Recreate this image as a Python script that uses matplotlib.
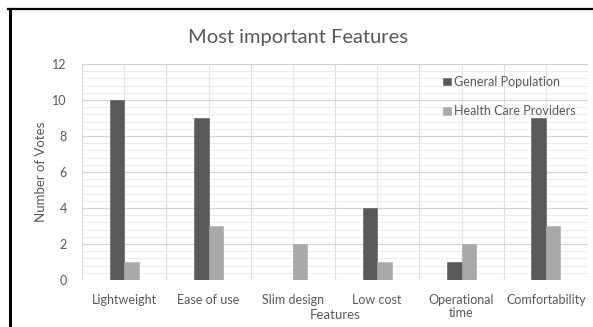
import matplotlib
matplotlib.use("Agg")
import matplotlib.pyplot as plt
import numpy as np
from matplotlib.lines import Line2D
from matplotlib.ticker import MultipleLocator

categories = ["Lightweight", "Ease of use", "Slim design", "Low cost", "Operational\ntime", "Comfortability"]
general_population = [10, 9, 0, 4, 1, 9]
health_care_providers = [1, 3, 2, 1, 2, 3]
y_ticks = [0, 2, 4, 6, 8, 10, 12]

plt.rcParams['font.family'] = ['Lato', 'DejaVu Sans']
text_color = "#595959"

W, H, DPI = 593, 327, 100
fig = plt.figure(figsize=(W / DPI, H / DPI), dpi=DPI)
ax = fig.add_axes([82 / W, 1 - 280 / H, (588 - 82) / W, (280 - 64) / H])

x = np.arange(len(categories))
bw = 0.172
ax.bar(x - bw / 2, general_population, bw, color="#595959", edgecolor="#595959",
       linewidth=0.4, label="General Population", zorder=3)
ax.bar(x + bw / 2, health_care_providers, bw, color="#a9a9a9", edgecolor="#a9a9a9",
       linewidth=0.4, label="Health Care Providers", zorder=3)

ax.set_xlim(-0.5, len(categories) - 0.5)
ax.set_ylim(0, 12)
ax.set_yticks(y_ticks)
ax.set_yticklabels([str(v) for v in y_ticks])
ax.yaxis.set_minor_locator(MultipleLocator(0.4))
ax.set_xticks(x)
ax.set_xticklabels(categories, linespacing=1.1)

ax.grid(axis="y", which="major", color="#d4d4d4", linewidth=0.8, zorder=0)
ax.grid(axis="y", which="minor", color="#ececec", linewidth=0.7, zorder=0)
# vertical lines at category centres and boundaries
for xv in np.arange(-0.5, len(categories), 0.5):
    ax.axvline(xv, color="#e6e6e6" if xv % 1 == 0 else "#dcdcdc", linewidth=0.8, zorder=0)

ax.tick_params(axis="both", which="both", length=0, colors=text_color, labelsize=9)
ax.tick_params(axis="x", pad=10)
ax.tick_params(axis="y", pad=11)
for s in ax.spines.values():
    s.set_visible(False)

ax.set_ylabel("Number of Votes", color=text_color, fontsize=9.5, labelpad=4)
ax.set_xlabel("Features", color=text_color, fontsize=9.5, labelpad=-7)
fig.text(298 / W, 1 - 37 / H, "Most important Features", ha="center", va="center",
         fontsize=14.5, color=text_color)

leg = ax.legend(loc="upper right", bbox_to_anchor=(1.0, 1.0), frameon=False, fontsize=9,
                labelcolor=text_color, handlelength=0.6, handleheight=0.6, handletextpad=0.3,
                labelspacing=1.4, borderaxespad=0.55)

# outer frame edges
fig.add_artist(Line2D([9.5 / W, 9.5 / W], [0, 1 - 8.5 / H], color="black", linewidth=2.2,
                      transform=fig.transFigure))
fig.add_artist(Line2D([8 / W, 1], [1 - 9 / H, 1 - 9 / H], color="black", linewidth=1.6,
                      transform=fig.transFigure))

fig.savefig("out.png", dpi=DPI)
